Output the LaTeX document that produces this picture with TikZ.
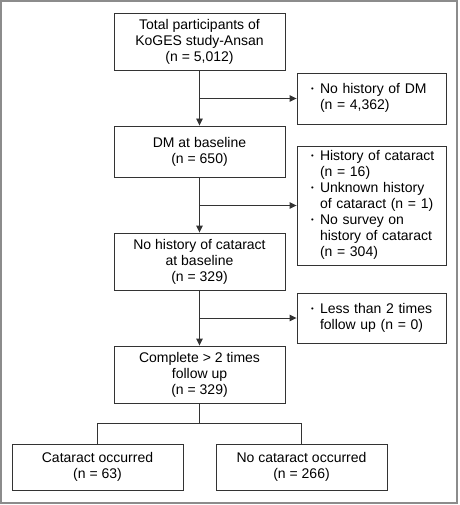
\documentclass[tikz,border=0pt]{standalone}
\usepackage{fontspec}
\setmainfont{Liberation Sans}
\usetikzlibrary{arrows.meta, positioning, calc}
\newcommand{\itm}{\makebox[9pt][l]{\raisebox{0.25ex}{\scalebox{0.55}{\textbullet}}}}

\begin{document}
\begin{tikzpicture}[
        x=1pt, y=-1pt,
        >=Stealth,
        font=\fontsize{14}{16}\selectfont,
        mainbox/.style={draw=black!80, line width=0.9pt, minimum width=171pt, align=center, inner sep=0pt},
        sidebox/.style={draw=black!80, line width=0.9pt, minimum width=149pt, text width=121pt, align=left, inner xsep=14pt, inner ysep=0pt},
        arrow/.style={line width=0.9pt, draw=black!80, -{Triangle[length=7pt, width=6.5pt]}},
        link/.style={line width=0.9pt, draw=black!80}
    ]
        \useasboundingbox (0,0) rectangle (459,505);
        \draw[black!45, line width=1.5pt] (1,1) rectangle (457,503);

        \node[mainbox, minimum height=57pt] (total) at (199.5,41.5) {Total participants of\\KoGES study-Ansan\\(n = 5,012)};
        \node[mainbox, minimum height=51pt] (dm) at (199.5,151.5) {DM at baseline\\(n = 650)};
        \node[mainbox, minimum height=57pt] (nocat) at (199.5,261.5) {No history of cataract\\at baseline\\(n = 329)};
        \node[mainbox, minimum height=57pt] (follow) at (199.5,374.5) {Complete {>} 2 times\\follow up\\(n = 329)};
        \node[mainbox, minimum height=46pt] (occ) at (97.5,467) {Cataract occurred\\(n = 63)};
        \node[mainbox, minimum height=46pt] (noocc) at (301.5,467) {No cataract occurred\\(n = 266)};

        \node[sidebox, minimum height=51pt] (exdm) at (371.5,98.5) {\begin{tabular}{@{}l@{}l@{}}\itm & No history of DM\\ & (n = 4,362)\end{tabular}};
        \node[sidebox, minimum height=119pt] (excat) at (371.5,205.5) {\begin{tabular}{@{}l@{}l@{}}\itm & History of cataract\\ & (n = 16)\\\itm & Unknown history\\ & of cataract (n = 1)\\\itm & No survey on\\ & history of cataract\\ & (n = 304)\end{tabular}};
        \node[sidebox, minimum height=50pt] (exfu) at (371.5,318) {\begin{tabular}{@{}l@{}l@{}}\itm & Less than 2 times\\ & follow up (n = 0)\end{tabular}};

        \coordinate (j1) at (total.south |- exdm.west);
        \coordinate (j2) at (dm.south |- excat.west);
        \coordinate (j3) at (nocat.south |- exfu.west);
        \coordinate (fork) at ($(follow.south)+(0,20)$);

        \draw[arrow] (total.south) -- (dm.north);
        \draw[arrow] (j1) -- (exdm.west);
        \draw[arrow] (dm.south) -- (nocat.north);
        \draw[arrow] (j2) -- (excat.west);
        \draw[arrow] (nocat.south) -- (follow.north);
        \draw[arrow] (j3) -- (exfu.west);
        \draw[link] (follow.south) -- (fork);
        \draw[link] (occ.north) |- (fork) -| (noocc.north);
    \end{tikzpicture}
\end{document}
